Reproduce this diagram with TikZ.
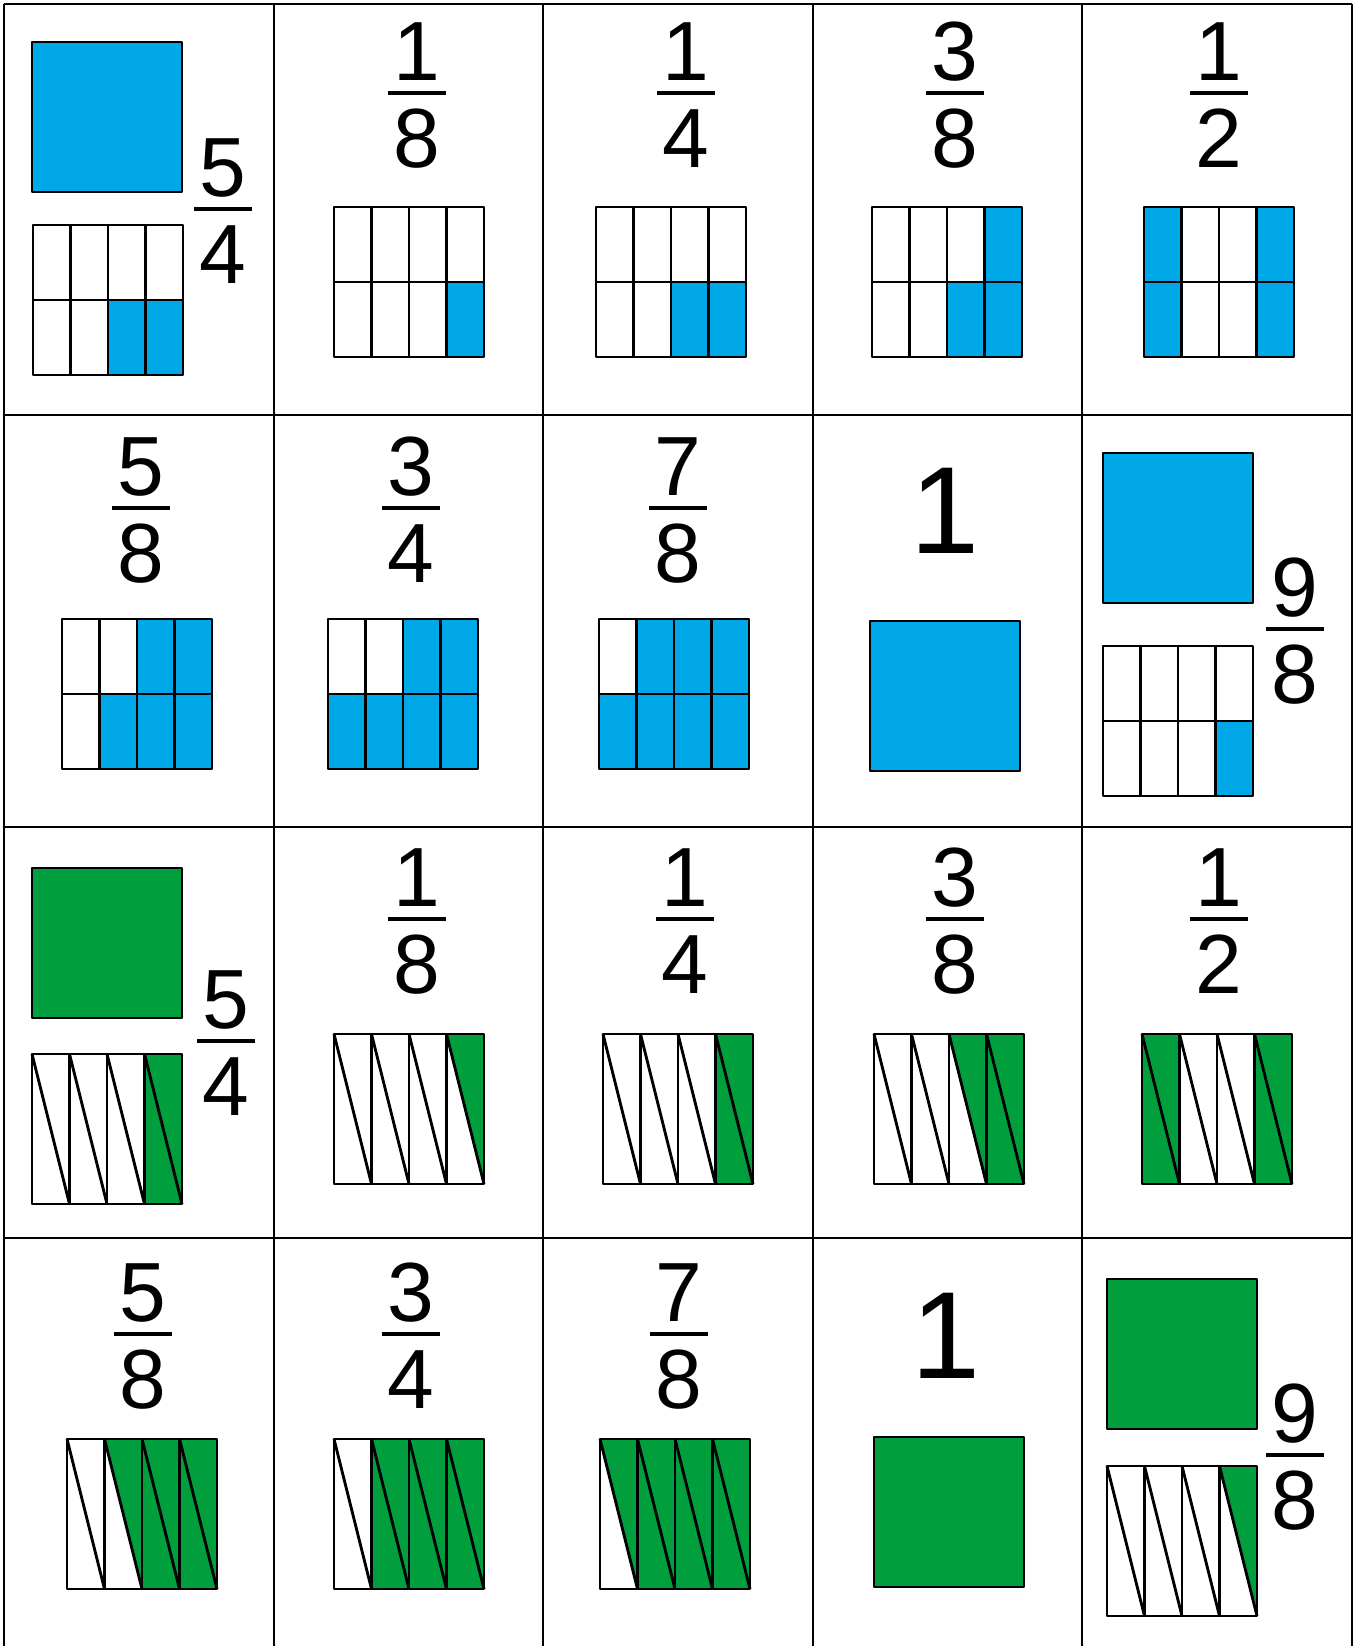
\documentclass[tikz,border=0pt]{standalone}
\usepackage{fontspec}
\setmainfont{Liberation Sans}
\definecolor{fblue}{HTML}{00A8E8}
\definecolor{fgreen}{HTML}{009E3C}
\tikzset{
 ln/.style={line width=1.4pt, line join=round},
 cellln/.style={line width=1pt},
 barln/.style={line width=2pt},
 dig/.style={inner sep=0pt, font=\fontsize{42}{42}\selectfont, anchor=base},
 bigdig/.style={inner sep=0pt, font=\fontsize{62}{62}\selectfont, anchor=base},
}
\newcommand\bluegrid[3]{%
 \begin{scope}[shift={(#1,#2)}]
 \foreach \ci/\ri in {#3} \fill[fblue] ({(\ci-1)*37.5},{(\ri-1)*75}) rectangle ++(37.5,75);
 \draw[ln] (0,0) rectangle (150,150);
 \foreach \ii in {1,2,3} \draw[ln] (\ii*37.5,0) -- (\ii*37.5,150);
 \draw[ln] (0,75) -- (150,75);
 \end{scope}}
\newcommand\greengrid[3]{%
 \begin{scope}[shift={(#1,#2)}]
 \foreach \ci/\ti in {#3} \fill[fgreen] ({(\ci-1)*37.5},0) -- ({(\ci-1+\ti)*37.5},{(1-\ti)*150}) -- ({\ci*37.5},150) -- cycle;
 \draw[ln] (0,0) rectangle (150,150);
 \foreach \ii in {1,2,3} \draw[ln] (\ii*37.5,0) -- (\ii*37.5,150);
 \foreach \ii in {0,1,2,3} \draw[ln] (\ii*37.5,0) -- (\ii*37.5+37.5,150);
 \end{scope}}
\newcommand\bigsq[3]{\draw[ln, fill=#3] (#1,#2) rectangle ++(150,150);}
\newcommand\frc[5]{%
 \node[dig] (#1n) at (#2,#3-13) {#4};
 \draw[barln] (#2-29,#3) -- (#2+29,#3);
 \node[dig] (#1d) at (#2,#3+74) {#5};}
\begin{document}
\begin{tikzpicture}[x=0.5pt,y=-0.5pt]
\useasboundingbox (0,0) rectangle (1359,1646);
\fill[white] (0,0) rectangle (1359,1646);
% cell lines
\foreach \yy in {4,415,827,1238} \draw[cellln] (4,\yy) -- (1352,\yy);
\foreach \xx in {4,273.6,543.2,812.8,1082.4,1352} \draw[cellln] (\xx,4) -- (\xx,1646);
% row 0
\bigsq{32}{42}{fblue}
\bluegrid{33}{225}{3/2,4/2}
\frc{a0}{223}{209}{5}{4}
\frc{a1}{417}{93}{1}{8}
\bluegrid{334}{207}{4/2}
\frc{a2}{686}{93}{1}{4}
\bluegrid{596}{207}{3/2,4/2}
\frc{a3}{955}{93}{3}{8}
\bluegrid{872}{207}{4/1,3/2,4/2}
\frc{a4}{1219}{93}{1}{2}
\bluegrid{1144}{207}{1/1,1/2,4/1,4/2}
% row 1
\frc{b0}{141}{508}{5}{8}
\bluegrid{62}{619}{3/1,4/1,2/2,3/2,4/2}
\frc{b1}{411}{508}{3}{4}
\bluegrid{328}{619}{3/1,4/1,1/2,2/2,3/2,4/2}
\frc{b2}{678}{508}{7}{8}
\bluegrid{599}{619}{2/1,3/1,4/1,1/2,2/2,3/2,4/2}
\node[bigdig] (b3) at (945,553) {1};
\bigsq{870}{621}{fblue}
\bigsq{1103}{453}{fblue}
\bluegrid{1103}{646}{4/2}
\frc{b4}{1295}{629}{9}{8}
% row 2
\bigsq{32}{868}{fgreen}
\greengrid{32}{1054}{4/1,4/0}
\frc{c0}{226}{1041}{5}{4}
\frc{c1}{417}{919}{1}{8}
\greengrid{334}{1034}{4/1}
\frc{c2}{685}{919}{1}{4}
\greengrid{603}{1034}{4/1,4/0}
\frc{c3}{955}{919}{3}{8}
\greengrid{874}{1034}{3/1,4/1,4/0}
\frc{c4}{1219}{919}{1}{2}
\greengrid{1142}{1034}{1/1,1/0,4/1,4/0}
% row 3
\frc{d0}{143}{1334}{5}{8}
\greengrid{67}{1439}{2/1,3/1,3/0,4/1,4/0}
\frc{d1}{411}{1334}{3}{4}
\greengrid{334}{1439}{2/1,2/0,3/1,3/0,4/1,4/0}
\frc{d2}{679}{1334}{7}{8}
\greengrid{600}{1439}{1/1,2/1,2/0,3/1,3/0,4/1,4/0}
\node[bigdig] (d3) at (946,1378) {1};
\bigsq{874}{1437}{fgreen}
\bigsq{1107}{1279}{fgreen}
\greengrid{1107}{1466}{4/1}
\frc{d4}{1295}{1455}{9}{8}
\end{tikzpicture}
\end{document}
